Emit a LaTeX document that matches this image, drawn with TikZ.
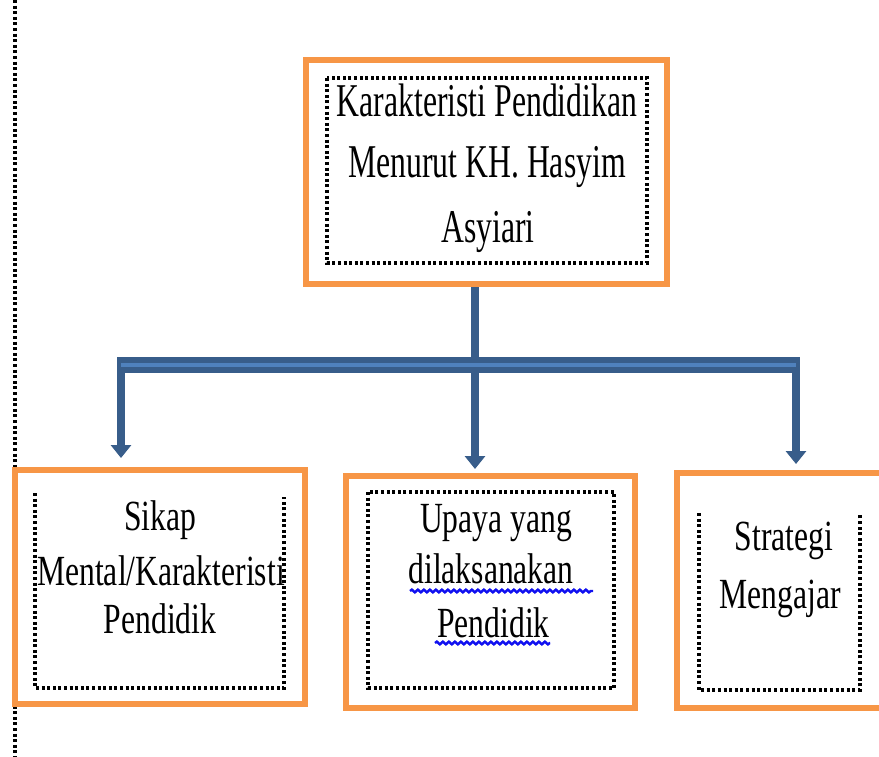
\documentclass[tikz,border=0pt]{standalone}
\usepackage{fontspec}
\usetikzlibrary{arrows.meta,decorations.pathmorphing}
\newfontfamily\topf[FakeStretch=0.675]{Liberation Serif}
\newfontfamily\botf[FakeStretch=0.735]{Liberation Serif}
\definecolor{orng}{HTML}{F79646}
\definecolor{dkblue}{HTML}{385D8A}
\definecolor{ltblue}{HTML}{4F81BD}
\definecolor{spell}{HTML}{1010F0}
\tikzset{
 obox/.style={draw=orng, line width=6pt, inner sep=0pt, fill=white},
 dots/.style={draw=black, line width=3.2pt, dash pattern=on 3pt off 2.6pt},
 ttext/.style={anchor=base, inner sep=0pt, font=\topf\fontsize{47}{56}\selectfont},
 btext/.style={anchor=base, inner sep=0pt, font=\botf\fontsize{43}{52}\selectfont},
 conn/.style={draw=dkblue, line width=8pt},
 tip/.style={-{Triangle[width=20pt,length=13pt]}},
 wavy/.style={draw=spell, line width=2.4pt, decorate, decoration={snake, segment length=6pt, amplitude=1.4pt}},
}
\begin{document}
\begin{tikzpicture}[x=1pt,y=-1pt]
\clip (0,0) rectangle (879,757);
\fill[white] (0,0) rectangle (879,757);
% left dotted rule
\coordinate (vt) at (15,0);
\coordinate (vb) at (15,757);
\draw[dots] (vt) -- (vb);
% boxes
\node[obox, minimum width=361, minimum height=224] (top) at (486.5,172) {};
\node[obox, minimum width=290, minimum height=234] (b1) at (160,587) {};
\node[obox, minimum width=289, minimum height=232] (b2) at (490.5,592) {};
\node[obox, minimum width=290, minimum height=235] (b3) at (822,590.5) {};
% connectors
\coordinate (J) at (475,365);
\coordinate (L) at (121,365);
\coordinate (R) at (796,365);
\coordinate (Lt) at (121,358);
\coordinate (Rt) at (796,358);
\coordinate (a1) at (121,458);
\coordinate (a2) at (475,469);
\coordinate (a3) at (796,464);
\draw[conn] (top.south -| J) -- (J);
\draw[conn,tip] (Lt) -- (a1);
\draw[conn,tip] (J) -- (a2);
\draw[conn,tip] (Rt) -- (a3);
\draw[dkblue, line width=16pt] ([xshift=-4pt]L) -- ([xshift=4pt]R);
\draw[ltblue, line width=4pt] (L) -- (R);
% inner dotted frames
\draw[dots] (327,78) rectangle (647,263);
\draw[dots] (35,493) -- (35,688) -- (284,688) -- (284,497);
\draw[dots] (368,492) rectangle (614,688);
\draw[dots] (699,513) -- (699,690) -- (860,690) -- (860,513);
% texts
\node[ttext] (t1) at (487,117) {Karakteristi Pendidikan};
\node[ttext] (t2) at (487,178) {Menurut KH. Hasyim};
\node[ttext] (t3) at (488,243) {Asyiari};
\node[btext] (s1) at (160,530) {Sikap};
\begin{scope}
\clip (30,440) rectangle (286,700);
\node[btext] (s2) at (161,585) {Mental/Karakteristi};
\end{scope}
\node[btext] (s3) at (160,633) {Pendidik};
\node[btext] (u1) at (496,532) {Upaya yang};
\node[btext] (u2) at (491,583) {dilaksanakan};
\node[btext] (u3) at (493.5,637) {Pendidik};
\node[btext] (g1) at (784,550) {Strategi};
\node[btext] (g2) at (780,608) {Mengajar};
% spell-check underlines
\coordinate (w1a) at (410,591);
\coordinate (w1b) at (593,591);
\coordinate (w2a) at (435,643);
\coordinate (w2b) at (550,643);
\draw[wavy] (w1a) -- (w1b);
\draw[wavy] (w2a) -- (w2b);
\end{tikzpicture}
\end{document}
